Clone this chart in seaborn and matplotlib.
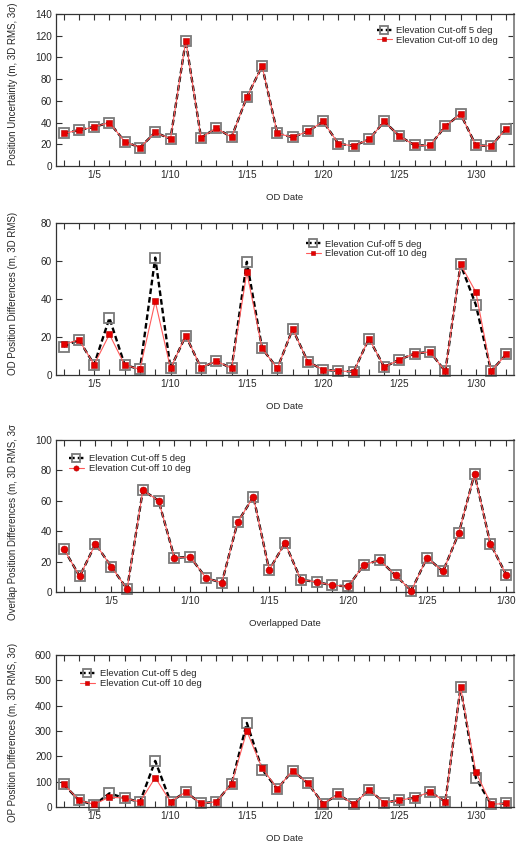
"""Four stacked panels: position uncertainty / OD / overlap / OP differences
for elevation cut-off 5 deg vs 10 deg."""

import matplotlib
matplotlib.use("Agg")
import matplotlib.pyplot as plt
import matplotlib.ticker as mticker
from matplotlib.transforms import Bbox
import pandas as pd
import seaborn as sns

# ---- data ------------------------------------------------------------------
od_days = list(range(3, 33))
overlap_days = list(range(2, 31))

unc_5deg = [30, 33, 36, 40, 22.5, 17, 31, 25, 115.5, 26, 35, 26.5, 63.5, 92, 30,
            26.5, 32, 41, 20.5, 18.5, 24.5, 41, 27.5, 19, 19, 36.5, 48, 19, 18.5, 34.5]
unc_10deg = [30, 33, 36, 40, 22.5, 17, 31, 25, 115.5, 26, 35, 26.5, 63.5, 92, 30,
             26.5, 32, 41, 20.5, 18.5, 24.5, 41, 27.5, 19, 19, 36.5, 48, 19, 18.5, 34.5]

od_5deg = [15, 18.5, 5.5, 30, 5.3, 3, 61.8, 3.5, 20.7, 3.7, 7.4, 3.5, 59.6, 14, 3.5,
           24.2, 6.9, 2.8, 2.1, 1.8, 19.2, 4.2, 8.1, 11.3, 12.2, 1.9, 58.2, 37, 2.1, 10.9]
od_10deg = [16.1, 18.5, 5.5, 21.4, 5.3, 3, 38.8, 3.5, 20.7, 3.9, 7.4, 3.5, 54, 14, 3.5,
            24.2, 6.9, 2.8, 2.1, 1.8, 19.2, 4.2, 8.1, 11.3, 12.2, 1.9, 58.2, 43.7, 2.1, 10.9]

overlap_5deg = [28.2, 10.3, 31.7, 16.6, 2, 67, 60, 22.5, 23.1, 9.2, 6.1, 45.9, 62.7, 14.4,
                32.3, 8.1, 6.6, 4.4, 3.7, 17.9, 21, 10.9, 0.9, 22.7, 13.5, 38.6, 77.7, 31.9, 11.4]
overlap_10deg = [28.2, 10.3, 31.7, 16.6, 2, 67, 60, 22.5, 23.1, 9.2, 6.1, 45.9, 62.7, 14.4,
                 32.3, 8.1, 6.6, 4.4, 3.7, 17.9, 21, 10.9, 0.9, 22.7, 13.5, 38.6, 77.7, 31.9, 11.4]

op_5deg = [89, 27, 8, 54, 35, 20, 182, 21, 59, 14, 21, 91.5, 332, 148, 71,
           144, 93, 13, 50, 10.5, 68, 17, 27, 37, 60, 21, 473, 115, 10.5, 14]
op_10deg = [91.5, 27, 10.5, 39, 35, 20, 116, 21, 59, 14, 21, 91.5, 299, 153, 73,
            144, 93, 13, 50, 10.5, 68, 17, 27, 37, 60, 21, 473, 138.6, 10.5, 14]

label_5 = "Elevation Cut-off 5 deg"
label_5_typo = "Elevation Cuf-off 5 deg"
label_10 = "Elevation Cut-off 10 deg"

sns.set_theme(style="ticks")
plt.rcParams["font.family"] = ["Liberation Sans", "DejaVu Sans"]
plt.rcParams["font.size"] = 7

RED = "#e60000"
FS_TICK = 7.2
FS_TEXT = 6.8


def draw_panel(ax, days, v5, v10, lab5, marker10, xlim, ylim, ystep, ylabel, xlabel,
               leg_xy, ylab_y=0.52):
    df = pd.DataFrame({"day": days, "v5": v5, "v10": v10})
    sns.lineplot(data=df, x="day", y="v5", ax=ax, color="black", lw=1.7,
                 linestyle=(0, (2.4, 1.3)), marker="s", markersize=7.5,
                 markerfacecolor="none", markeredgecolor="#7a7a7a", markeredgewidth=1.3,
                 label=lab5, clip_on=False, zorder=2)
    sns.lineplot(data=df, x="day", y="v10", ax=ax, color="#ff5a5a", lw=0.8,
                 marker=marker10, markersize=4.6 if marker10 == "s" else 5,
                 markerfacecolor=RED, markeredgecolor="#b00000", markeredgewidth=0.4,
                 label=label_10, clip_on=False, zorder=3)

    ax.set_xlim(*xlim)
    ax.set_ylim(*ylim)
    ax.xaxis.set_major_locator(mticker.MultipleLocator(5))
    ax.xaxis.set_minor_locator(mticker.MultipleLocator(1))
    ax.xaxis.set_major_formatter(mticker.FuncFormatter(lambda d, _: f"1/{int(round(d))}"))
    ax.yaxis.set_major_locator(mticker.MultipleLocator(ystep))
    ax.tick_params(axis="both", which="both", direction="in", top=True, right=True,
                   length=4, width=0.8, color="#333333", labelsize=FS_TICK, pad=3)
    ax.tick_params(axis="x", which="minor", length=4)
    for name, sp in ax.spines.items():
        sp.set_visible(True)
        sp.set_color("#333333")
        sp.set_linewidth(0.9)
    ax.spines["right"].set_color("#8a8a8a")
    ax.spines["right"].set_linewidth(1.4)

    ax.set_xlabel(xlabel, fontsize=FS_TEXT)
    ax.set_ylabel(ylabel, fontsize=7.0)
    ax.xaxis.set_label_coords(0.5, -0.175)
    ax.yaxis.set_label_coords(-0.082, ylab_y)

    ax.legend(loc="upper left", bbox_to_anchor=leg_xy, frameon=False, fontsize=FS_TEXT,
              handlelength=1.6, handletextpad=0.5, labelspacing=0.05, borderpad=0,
              borderaxespad=0, numpoints=1, markerscale=0.75)


fig = plt.figure(figsize=(5.24, 8.49), dpi=100)
left, width, height = 56 / 524, 458 / 524, 0.179
ax1 = fig.add_axes([left, 1 - 166 / 849, width, height])
ax2 = fig.add_axes([left, 1 - 375 / 849, width, height])
ax3 = fig.add_axes([left, 1 - 592 / 849, width, height])
ax4 = fig.add_axes([left, 1 - 807 / 849, width, height])

draw_panel(ax1, od_days, unc_5deg, unc_10deg, label_5, "s", (2.5, 32.5), (0, 140), 20,
           "Position Uncertainty (m, 3D RMS, 3σ)", "OD Date", (0.70, 0.92), 0.54)
draw_panel(ax2, od_days, od_5deg, od_10deg, label_5_typo, "s", (2.5, 32.5), (0, 80), 20,
           "OD Position Differences (m, 3D RMS)", "OD Date", (0.545, 0.89), 0.535)
draw_panel(ax3, overlap_days, overlap_5deg, overlap_10deg, label_5, "o", (1.5, 30.5), (0, 100), 20,
           "Overlap Position Differences (m, 3D RMS, 3σ)", "Overlapped Date", (0.028, 0.905), 0.47)
draw_panel(ax4, od_days, op_5deg, op_10deg, label_5, "s", (2.5, 32.5), (0, 600), 100,
           "OP Position Differences (m, 3D RMS, 3σ)", "OD Date", (0.052, 0.905), 0.49)

# the third panel's y label is cut off at the top in the original
ylab3 = ax3.yaxis.label
ylab3.set_clip_on(True)
ylab3.set_clip_box(Bbox([[0, 0], [524, 849 - 425]]))

fig.savefig("out.png", dpi=100)
